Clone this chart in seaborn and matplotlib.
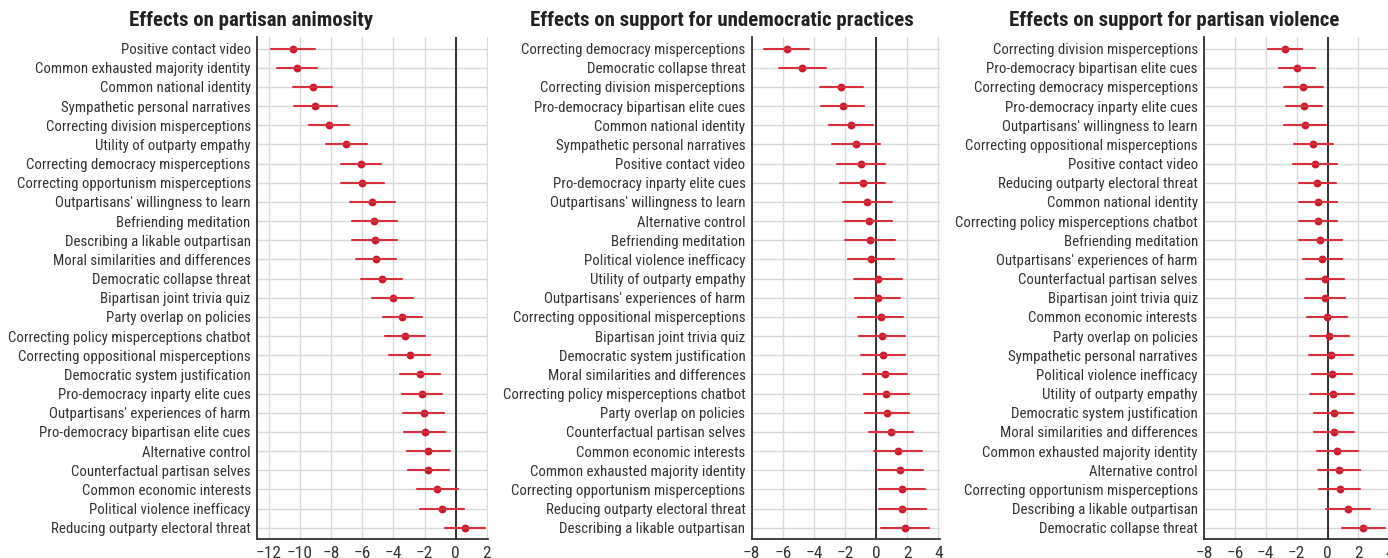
import numpy as np
import pandas as pd
import matplotlib
matplotlib.use("Agg")
import matplotlib.pyplot as plt
import seaborn as sns

# ---------------- data ----------------
anim_labels = ["Positive contact video", "Common exhausted majority identity", "Common national identity",
               "Sympathetic personal narratives", "Correcting division misperceptions", "Utility of outparty empathy",
               "Correcting democracy misperceptions", "Correcting opportunism misperceptions",
               "Outpartisans' willingness to learn", "Befriending meditation", "Describing a likable outpartisan",
               "Moral similarities and differences", "Democratic collapse threat", "Bipartisan joint trivia quiz",
               "Party overlap on policies", "Correcting policy misperceptions chatbot",
               "Correcting oppositional misperceptions", "Democratic system justification",
               "Pro-democracy inparty elite cues", "Outpartisans' experiences of harm",
               "Pro-democracy bipartisan elite cues", "Alternative control", "Counterfactual partisan selves",
               "Common economic interests", "Political violence inefficacy", "Reducing outparty electoral threat"]
anim_est = [-10.45, -10.2, -9.19, -9.02, -8.16, -7.03, -6.06, -6.0, -5.36, -5.23, -5.21, -5.14, -4.76,
            -4.03, -3.43, -3.26, -2.96, -2.27, -2.14, -2.06, -1.99, -1.76, -1.76, -1.18, -0.88, 0.62]
anim_lo = [-11.85, -11.48, -10.45, -10.39, -9.45, -8.35, -7.35, -7.37, -6.79, -6.66, -6.64, -6.43, -6.08,
           -5.38, -4.67, -4.54, -4.26, -3.58, -3.43, -3.38, -3.32, -3.13, -3.06, -2.51, -2.27, -0.69]
anim_hi = [-9.06, -8.89, -7.93, -7.63, -6.83, -5.68, -4.78, -4.61, -3.92, -3.77, -3.75, -3.81, -3.43,
           -2.72, -2.16, -1.95, -1.67, -0.99, -0.86, -0.73, -0.66, -0.39, -0.43, 0.17, 0.54, 1.91]

undem_labels = ["Correcting democracy misperceptions", "Democratic collapse threat",
                "Correcting division misperceptions", "Pro-democracy bipartisan elite cues",
                "Common national identity", "Sympathetic personal narratives", "Positive contact video",
                "Pro-democracy inparty elite cues", "Outpartisans' willingness to learn", "Alternative control",
                "Befriending meditation", "Political violence inefficacy", "Utility of outparty empathy",
                "Outpartisans' experiences of harm", "Correcting oppositional misperceptions",
                "Bipartisan joint trivia quiz", "Democratic system justification",
                "Moral similarities and differences", "Correcting policy misperceptions chatbot",
                "Party overlap on policies", "Counterfactual partisan selves", "Common economic interests",
                "Common exhausted majority identity", "Correcting opportunism misperceptions",
                "Reducing outparty electoral threat", "Describing a likable outpartisan"]
undem_est = [-5.74, -4.74, -2.23, -2.16, -1.63, -1.29, -0.99, -0.88, -0.6, -0.49, -0.41, -0.32, 0.09,
             0.09, 0.28, 0.36, 0.45, 0.58, 0.66, 0.71, 0.94, 1.39, 1.52, 1.63, 1.69, 1.84]
undem_lo = [-7.2, -6.24, -3.62, -3.54, -3.06, -2.81, -2.53, -2.31, -2.16, -1.99, -1.99, -1.8, -1.44,
            -1.33, -1.14, -1.09, -0.99, -0.84, -0.77, -0.69, -0.47, -0.13, 0.04, 0.15, 0.21, 0.34]
undem_hi = [-4.31, -3.21, -0.86, -0.79, -0.21, 0.26, 0.56, 0.54, 1.01, 1.01, 1.22, 1.16, 1.63,
            1.52, 1.74, 1.82, 1.82, 1.99, 2.14, 2.1, 2.36, 2.94, 3.0, 3.11, 3.17, 3.39]

viol_labels = ["Correcting division misperceptions", "Pro-democracy bipartisan elite cues",
               "Correcting democracy misperceptions", "Pro-democracy inparty elite cues",
               "Outpartisans' willingness to learn", "Correcting oppositional misperceptions",
               "Positive contact video", "Reducing outparty electoral threat", "Common national identity",
               "Correcting policy misperceptions chatbot", "Befriending meditation",
               "Outpartisans' experiences of harm", "Counterfactual partisan selves",
               "Bipartisan joint trivia quiz", "Common economic interests", "Party overlap on policies",
               "Sympathetic personal narratives", "Political violence inefficacy", "Utility of outparty empathy",
               "Democratic system justification", "Moral similarities and differences",
               "Common exhausted majority identity", "Alternative control",
               "Correcting opportunism misperceptions", "Describing a likable outpartisan",
               "Democratic collapse threat"]
viol_est = [-2.77, -1.97, -1.59, -1.52, -1.46, -0.92, -0.79, -0.67, -0.62, -0.6, -0.47, -0.34, -0.19,
            -0.17, -0.04, 0.11, 0.24, 0.3, 0.34, 0.39, 0.43, 0.62, 0.73, 0.79, 1.29, 2.32]
viol_lo = [-3.86, -3.15, -2.85, -2.7, -2.79, -2.15, -2.21, -1.82, -1.87, -1.82, -1.87, -1.59, -1.42,
           -1.44, -1.33, -1.16, -1.18, -1.03, -1.12, -0.88, -0.86, -0.69, -0.62, -0.54, -0.09, 0.94]
viol_hi = [-1.67, -0.82, -0.32, -0.34, -0.13, 0.32, 0.62, 0.54, 0.62, 0.6, 0.94, 0.94, 1.07,
           1.12, 1.27, 1.37, 1.65, 1.61, 1.74, 1.63, 1.72, 1.95, 2.1, 2.12, 2.73, 3.71]

titles = ["Effects on partisan animosity", "Effects on support for undemocratic practices",
          "Effects on support for partisan violence"]
x_ticks = [[-12, -10, -8, -6, -4, -2, 0, 2], [-8, -6, -4, -2, 0, 2, 4], [-8, -6, -4, -2, 0, 2, 4]]

# ---------------- style ----------------
sns.set_style("white")
plt.rcParams["font.family"] = ["Roboto Condensed", "Archivo Narrow", "DejaVu Sans"]
plt.rcParams["axes.unicode_minus"] = True

RED = "#cc1a2c"
DARK = "#333333"
GRID = "#d9d9d9"

fig = plt.figure(figsize=(13.88, 5.58), dpi=100)
W, H = 1388, 558
bottom_px, top_px = 539.3, 37
positions = [(257, 488), (751.7, 940), (1204, 1390.6)]
xlims = [(-12.77, 2.08), (-8, 4.1), (-8, 4.08)]
title_cx = [251, 722, 1174]

panels = [(anim_labels, anim_est, anim_lo, anim_hi),
          (undem_labels, undem_est, undem_lo, undem_hi),
          (viol_labels, viol_est, viol_lo, viol_hi)]

for i, (labels, est, lo, hi) in enumerate(panels):
    l, r = positions[i]
    ax = fig.add_axes([l / W, (H - bottom_px) / H, (r - l) / W, (bottom_px - top_px) / H])
    df = pd.DataFrame({
        "label": labels * 3,
        "value": list(lo) + list(est) + list(hi),
    })
    ax.axvline(0, color=DARK, lw=1.4, zorder=1)
    sns.pointplot(data=df, x="value", y="label", order=labels, estimator="median",
                  errorbar=("pi", 100), linestyle="none", marker="o", markersize=3.6,
                  color=RED, err_kws={"linewidth": 1.5, "color": "#d5303c"}, ax=ax, zorder=3)
    ax.set_xlim(*xlims[i])
    ax.set_ylim(25.6, -0.6)
    ax.set_xticks(x_ticks[i])
    ax.set_xlabel("")
    ax.set_ylabel("")
    ax.grid(True, color=GRID, lw=1.0, zorder=0)
    ax.xaxis.grid(True)
    ax.yaxis.grid(True)
    ax.set_axisbelow(True)
    for s in ["top", "right"]:
        ax.spines[s].set_visible(False)
    for s in ["left", "bottom"]:
        ax.spines[s].set_color(DARK)
        ax.spines[s].set_linewidth(1.3)
    ax.tick_params(axis="y", length=3, width=1, color=DARK, labelsize=10.7, labelcolor="#333333", pad=1.5)
    ax.tick_params(axis="x", length=4, width=1, color=DARK, labelsize=12.5, labelcolor="#333333", pad=0.5)
    fig.text(title_cx[i] / W, 1 - 20 / H, titles[i], ha="center", va="center",
             fontsize=15, fontweight="bold", color="#222222")

fig.savefig("out.png", dpi=100)
